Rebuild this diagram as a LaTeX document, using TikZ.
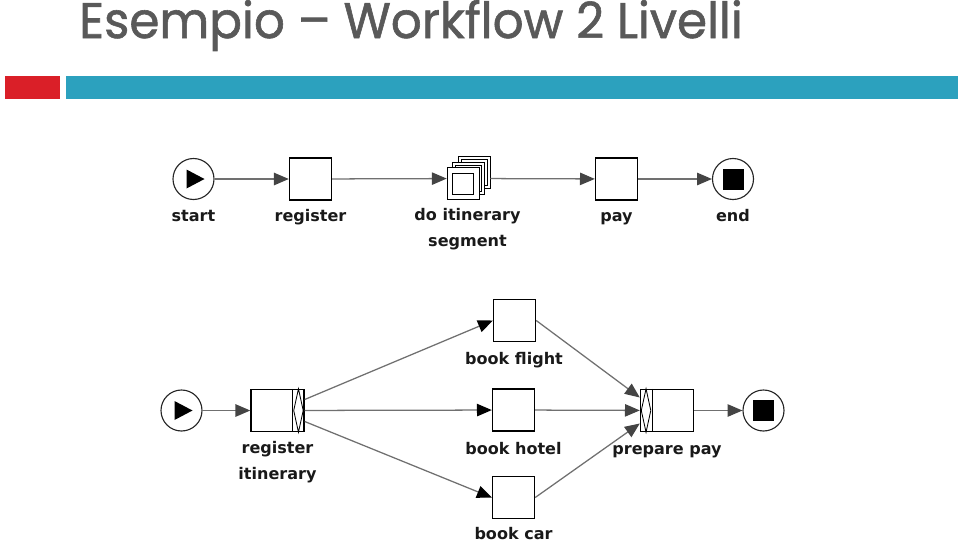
\documentclass[tikz,border=0pt]{standalone}
\usepackage{fontspec}
\setmainfont{DejaVu Sans}
\newfontfamily\titlefont[FakeBold=1.2]{Poppins}
\usetikzlibrary{arrows.meta,calc}

\definecolor{titlegray}{HTML}{595959}
\definecolor{barred}{HTML}{DA1F28}
\definecolor{barblue}{HTML}{2CA1BE}
\definecolor{flowline}{HTML}{707070}
\definecolor{tipgray}{HTML}{444444}

\tikzset{
    event/.style={circle, draw=black!85, line width=0.8pt, fill=white, minimum size=1.025cm, inner sep=0pt},
    task/.style={rectangle, draw=black, line width=1pt, fill=white, minimum size=1.05cm, inner sep=0pt},
    gatetask/.style={task, minimum width=1.325cm},
    lbl/.style={anchor=base, align=center, inner sep=0pt, text=black!90, font=\bfseries\fontsize{11.4}{17.8}\selectfont},
    flow/.style={draw=flowline, line width=0.9pt, -{Triangle[length=0.37cm, width=0.31cm, color=tipgray]}},
    forkflow/.style={flow, -{Triangle[length=0.37cm, width=0.31cm, color=black]}}
}

\begin{document}
\begin{tikzpicture}[x=0.025cm, y=-0.025cm]
    \useasboundingbox (0,0) rectangle (960,541);

    % Title and bars
    \node[anchor=base west, inner sep=0pt, text=titlegray, font=\titlefont\fontsize{35.5}{40}\selectfont] (title) at (79,38) {\scalebox{0.97}[1]{Esempio – Workflow 2 Livelli}};
    \fill[barred] (5,76) rectangle (60,99);
    \fill[barblue] (66,76) rectangle (958,99);

    % Top level
    \node[event] (start1) at (193.5,179) {};
    \node[task] (reg) at (310.5,179) {};
    \node[minimum size=1.075cm, inner sep=0pt] (seg) at (468.5,178.5) {};
    \node[task] (pay) at (616.5,179) {};
    \node[event] (end1) at (733,179) {};

    % Multi instance squares
    \foreach \d/\i in {0/3, 5.5/3, 11/5.5} {
        \coordinate (c) at ($(seg.north east)+(-\d,\d)$);
        \filldraw[fill=white, line width=0.8pt] (c) rectangle ++(-32,32);
        \draw[line width=0.8pt] ($(c)+(-\i,\i)$) rectangle ($(c)+(-32+\i,32-\i)$);
    }

    \node[lbl] (start1-l) at (193.5,221) {start};
    \node[lbl] (reg-l) at (310.5,221) {register};
    \node[lbl] (seg-l) at (467.5,246) {do itinerary\\segment};
    \node[lbl] (pay-l) at (616.5,221) {pay};
    \node[lbl] (end1-l) at (733,221) {end};

    \draw[flow] (start1) -- (reg);
    \draw[flow] (reg) -- (seg);
    \draw[flow] (seg) -- (pay);
    \draw[flow] (pay) -- (end1);

    % Second level
    \node[event] (start2) at (181.5,410.5) {};
    \node[gatetask] (regit) at (277.5,410.5) {};
    \node[task] (flight) at (514.5,320.5) {};
    \node[task] (hotel) at (513.5,410) {};
    \node[task] (car) at (513.5,497.5) {};
    \node[gatetask] (prep) at (667,410.5) {};
    \node[event] (end2) at (763.5,410.5) {};

    % Fork and join strips
    \draw[line width=1pt] ($(regit.north east)+(-12.5,0)$) -- ($(regit.south east)+(-12.5,0)$);
    \draw[line width=0.6pt] ($(regit.north east)+(-6.25,0)$) -- ($(regit.east)+(-1.5,0)$) -- ($(regit.south east)+(-6.25,0)$) -- ($(regit.east)+(-11,0)$) -- cycle;
    \draw[line width=1pt] ($(prep.north west)+(12.5,0)$) -- ($(prep.south west)+(12.5,0)$);
    \draw[line width=0.6pt] ($(prep.north west)+(6.25,0)$) -- ($(prep.west)+(11,0)$) -- ($(prep.south west)+(6.25,0)$) -- ($(prep.west)+(1.5,0)$) -- cycle;

    % Start and end marks
    \foreach \s in {start1, start2}
        \fill[shift={(\s.center)}] (-7,-9.5) -- (11,0) -- (-7,9.5) -- cycle;
    \foreach \e in {end1, end2}
        \fill[shift={(\e.center)}] (-10.5,-10.5) rectangle (10.5,10.5);

    \node[lbl] (regit-l) at (277.5,479) {register\\itinerary};
    \node[lbl] (flight-l) at (514,364) {book flight};
    \node[lbl] (hotel-l) at (513.5,454) {book hotel};
    \node[lbl] (car-l) at (513.5,539) {book car};
    \node[lbl] (prep-l) at (667,454) {prepare pay};

    \draw[flow] (start2) -- (regit);
    \draw[forkflow] ($(regit.east)+(0,-11)$) -- (flight.west);
    \draw[forkflow] (regit) -- (hotel);
    \draw[forkflow] ($(regit.east)+(0,11)$) -- (car.west);
    \draw[flow] (flight.east) -- ($(prep.west)+(0,-13)$);
    \draw[flow] (hotel) -- (prep);
    \draw[flow] (car.east) -- ($(prep.west)+(0,13)$);
    \draw[flow] (prep) -- (end2);
\end{tikzpicture}
\end{document}
